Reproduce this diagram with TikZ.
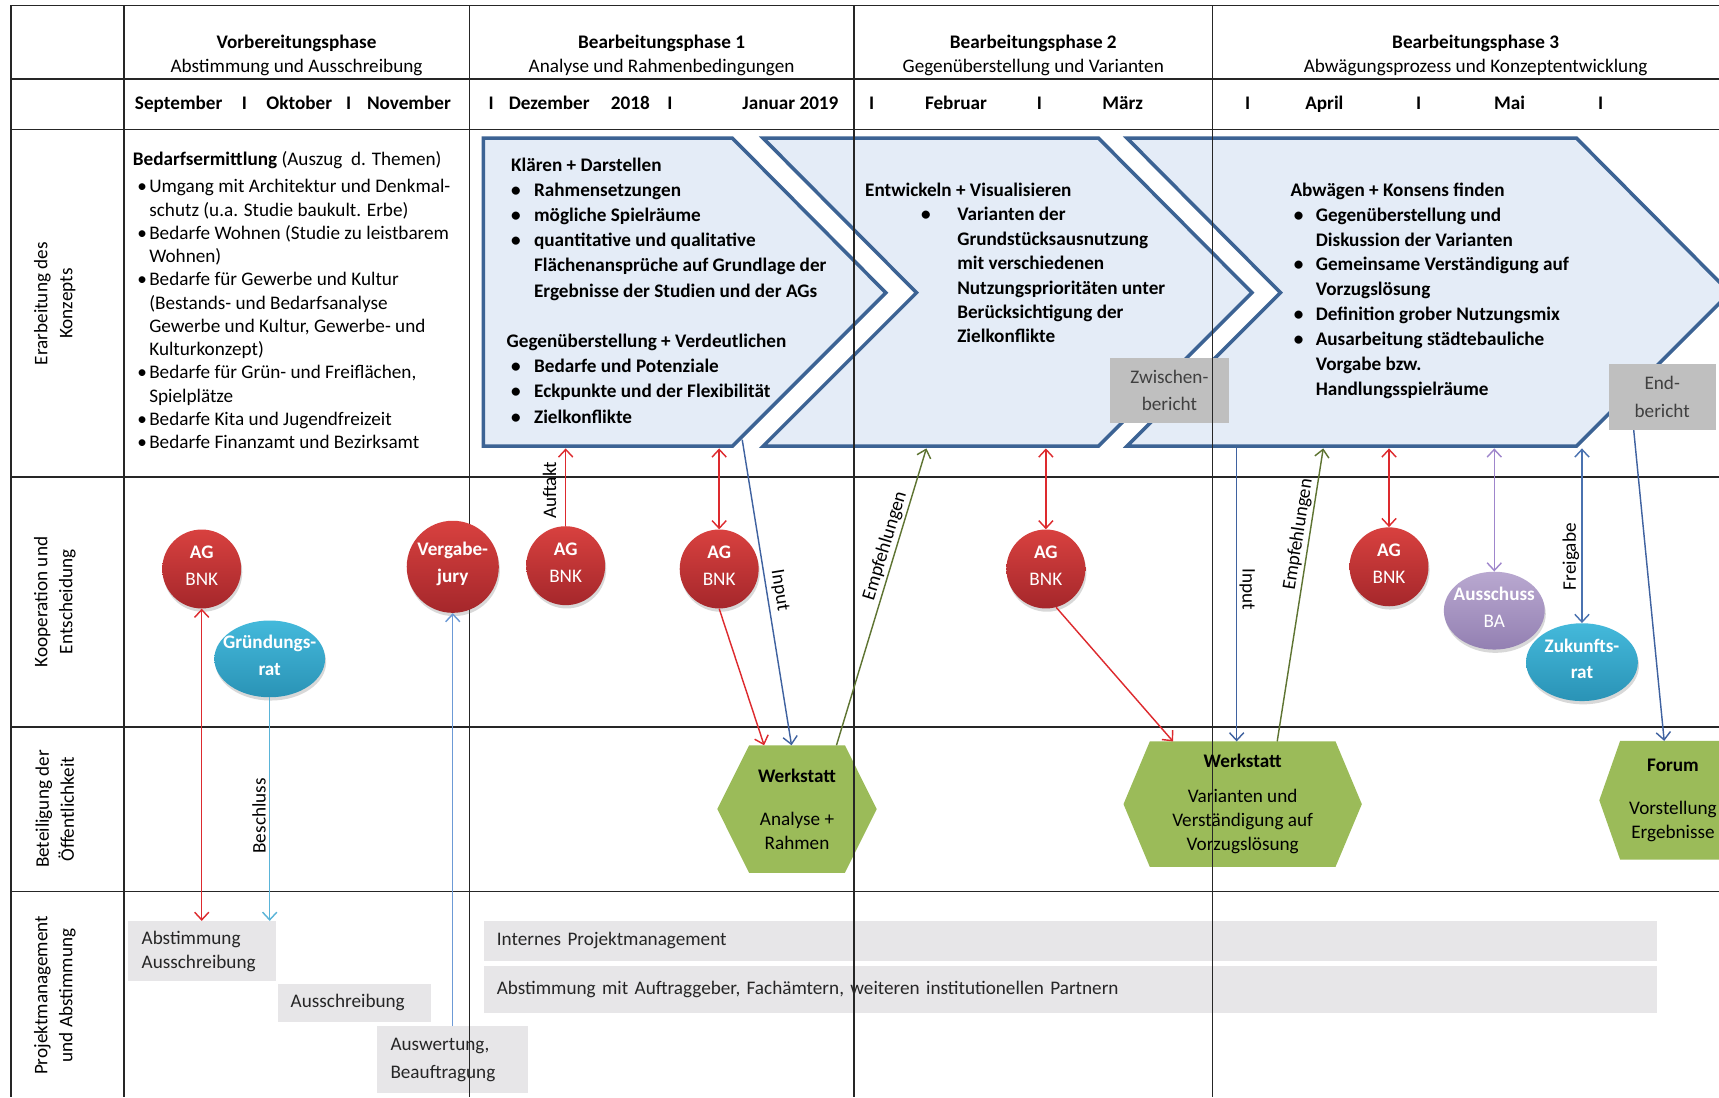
\documentclass[tikz,border=0pt]{standalone}
\usepackage{fontspec}
\setmainfont{Carlito}
\usepackage{tikz}
\usetikzlibrary{arrows.meta,positioning,shapes.geometric,shadows}

\definecolor{chevfill}{HTML}{E4ECF7}
\definecolor{chevline}{HTML}{3C6394}
\definecolor{ballred}{HTML}{D8413F}
\definecolor{ballreddark}{HTML}{A5272B}
\definecolor{ballcyan}{HTML}{44B9DB}
\definecolor{ballcyandark}{HTML}{2A93B6}
\definecolor{balllila}{HTML}{B9A8D0}
\definecolor{balliladark}{HTML}{9380B2}
\definecolor{hexgreen}{HTML}{9BBB59}
\definecolor{boxgrey}{HTML}{E7E6E8}
\definecolor{repgrey}{HTML}{BFBFBF}
\definecolor{arrred}{HTML}{DD2A2E}
\definecolor{arrblue}{HTML}{3F62A0}
\definecolor{arrmid}{HTML}{4A72B0}
\definecolor{arrlight}{HTML}{6C9AD6}
\definecolor{arrcyan}{HTML}{5AB4D8}
\definecolor{arrgreen}{HTML}{5E7432}
\definecolor{arrlila}{HTML}{9F86CC}

\pgfdeclarelayer{background}
\pgfdeclarelayer{gridlayer}
\pgfsetlayers{background,gridlayer,main}

\newcommand{\bul}[1][4pt]{\hspace{#1}\textbullet}

\begin{document}
\begin{tikzpicture}[
    x=1pt, y=-1pt,
    >={Straight Barb[length=7pt,width=13pt]},
    font=\fontsize{17.5}{22}\selectfont,
    gridline/.style={draw=black!85, line width=1.2pt},
    chevron/.style={fill=chevfill, draw=chevline, line width=3.2pt},
    phase/.style={anchor=base, inner sep=0pt},
    month/.style={anchor=base, inner sep=0pt, font=\fontsize{17.5}{22}\selectfont\bfseries},
    rowlabel/.style={rotate=90, align=center, inner sep=0pt, font=\fontsize{17.5}{22.8}\selectfont},
    textblock/.style={anchor=base west, inner sep=0pt},
    ball/.style={inner sep=0pt, draw=none,
        drop shadow={opacity=0.3, shadow xshift=1pt, shadow yshift=-3pt}},
    redball/.style={ball, circle, minimum size=72pt, top color=ballred, bottom color=ballreddark},
    cyanball/.style={ball, ellipse, minimum width=101pt, minimum height=70pt,
        top color=ballcyan, bottom color=ballcyandark},
    lilaball/.style={ball, ellipse, minimum width=92pt, minimum height=71pt,
        top color=balllila, bottom color=balliladark},
    balltext/.style={text=white, align=center, inner sep=0pt, yshift=3pt,
        font=\fontsize{17.5}{24.5}\selectfont},
    balltextbf/.style={balltext, font=\fontsize{17.5}{24.5}\selectfont\bfseries},
    hexnode/.style={inner sep=0pt, align=center},
    hexfill/.style={fill=hexgreen},
    report/.style={fill=repgrey, text=black!75, align=center, inner sep=0pt,
        anchor=north west, font=\fontsize{17.5}{25}\selectfont},
    pmbox/.style={fill=boxgrey, text=black!85, align=left, inner xsep=12pt,
        inner ysep=0pt, anchor=north west},
    conn/.style={line width=1.3pt},
    redline/.style={conn, draw=arrred},
    blueline/.style={conn, draw=arrblue},
    midline/.style={conn, draw=arrmid},
    lightline/.style={conn, draw=arrlight},
    cyanline/.style={conn, draw=arrcyan},
    greenline/.style={conn, draw=arrgreen},
    lilaline/.style={conn, draw=arrlila}
  ]
  \useasboundingbox (0,0) rectangle (1568,1001);

  % Phasen und Zeitleiste
  \node[phase] (ph0) at (270.5,44) {\begin{tabular}[t]{@{}c@{}}\textbf{Vorbereitungsphase}\\Abstimmung und Ausschreibung\end{tabular}};
  \node[phase] (ph1) at (603.5,44) {\begin{tabular}[t]{@{}c@{}}\textbf{Bearbeitungsphase 1}\\Analyse und Rahmenbedingungen\end{tabular}};
  \node[phase] (ph2) at (942.5,44) {\begin{tabular}[t]{@{}c@{}}\textbf{Bearbeitungsphase 2}\\Gegenüberstellung und Varianten\end{tabular}};
  \node[phase] (ph3) at (1346,44) {\begin{tabular}[t]{@{}c@{}}\textbf{Bearbeitungsphase 3}\\Abwägungsprozess und Konzeptentwicklung\end{tabular}};

  \foreach \mx/\mt [count=\mi] in {163/September, 223/I, 273/Oktober, 318/I, 373/November,
      448/I, 501/Dezember, 575/2018, 611/I, 721/Januar 2019,
      795/I, 872/Februar, 948/I, 1024/März,
      1138/I, 1208/April, 1294/I, 1377/Mai, 1460/I}
    \node[month] (mon\mi) at (\mx,100) {\mt};

  % Zeilenbeschriftung
  \node[rowlabel] (row1) at (50,277) {Erarbeitung des\\Konzepts};
  \node[rowlabel] (row2) at (50,549) {Kooperation und\\Entscheidung};
  \node[rowlabel] (row3) at (50,738) {Beteiligung der\\Öffentlichkeit};
  \node[rowlabel] (row4) at (50,908) {Projektmanagement\\und Abstimmung};

  % Erarbeitung des Konzepts
  \node[textblock, font=\fontsize{17.5}{21.2}\selectfont] (bedarf) at (121,151) {%
    \begin{tabular}[t]{@{}p{15pt}@{}l@{}}
      \multicolumn{2}{@{}l@{}}{\textbf{Bedarfsermittlung} (Auszug~ d. Themen)}\\[3.8pt]
      \bul & Umgang mit Architektur und Denkmal-\\
      & schutz (u.a. Studie baukult. Erbe)\\
      \bul & Bedarfe Wohnen (Studie zu leistbarem\\
      & Wohnen)\\
      \bul & Bedarfe für Gewerbe und Kultur\\
      & (Bestands- und Bedarfsanalyse\\
      & Gewerbe und Kultur, Gewerbe- und\\
      & Kulturkonzept)\\
      \bul & Bedarfe für Grün- und Freiflächen,\\
      & Spielplätze\\
      \bul & Bedarfe Kita und Jugendfreizeit\\
      \bul & Bedarfe Finanzamt und Bezirksamt
    \end{tabular}};

  \node[textblock, font=\fontsize{17.5}{23}\selectfont\bfseries] (klaeren) at (462,156) {%
    \begin{tabular}[t]{@{}p{25pt}@{}l@{}}
      \multicolumn{2}{@{}l@{}}{\hspace{4pt}Klären + Darstellen}\\
      \bul & Rahmensetzungen\\
      \bul & mögliche Spielräume\\
      \bul & quantitative und qualitative\\
      & Flächenansprüche auf Grundlage der\\
      & Ergebnisse der Studien und der AGs\\
      \multicolumn{2}{@{}l@{}}{}\\
      \multicolumn{2}{@{}l@{}}{Gegenüberstellung + Verdeutlichen}\\
      \bul & Bedarfe und Potenziale\\
      \bul & Eckpunkte und der Flexibilität\\
      \bul & Zielkonflikte
    \end{tabular}};

  \node[textblock, font=\fontsize{17.5}{22.3}\selectfont\bfseries] (entwickeln) at (789,179) {%
    \begin{tabular}[t]{@{}p{84pt}@{}l@{}}
      \multicolumn{2}{@{}l@{}}{Entwickeln + Visualisieren}\\
      \bul[51pt] & Varianten der\\
      & Grundstücksausnutzung\\
      & mit verschiedenen\\
      & Nutzungsprioritäten unter\\
      & Berücksichtigung der\\
      & Zielkonflikte
    \end{tabular}};

  \node[textblock, font=\fontsize{17.5}{22.7}\selectfont\bfseries] (abwaegen) at (1177,179) {%
    \begin{tabular}[t]{@{}p{23pt}@{}l@{}}
      \multicolumn{2}{@{}l@{}}{Abwägen + Konsens finden}\\
      \bul[3pt] & Gegenüberstellung und\\
      & Diskussion der Varianten\\
      \bul[3pt] & Gemeinsame Verständigung auf\\
      & Vorzugslösung\\
      \bul[3pt] & Definition grober Nutzungsmix\\
      \bul[3pt] & Ausarbeitung städtebauliche\\
      & Vorgabe bzw.\\
      & Handlungsspielräume
    \end{tabular}};

  \coordinate (ch1s) at (441,409);
  \coordinate (ch1e) at (668,407);
  \coordinate (ch2s) at (696,409);
  \coordinate (ch3s) at (1028,409);

  % Kooperation und Entscheidung
  \foreach \bx/\by [count=\bi] in {184/519, 516/516, 656/519, 954/519, 1267/517} {
    \node[redball] (ag\bi) at (\bx,\by) {};
    \node[balltext] (agt\bi) at (ag\bi) {\textbf{AG}\\BNK};
  }
  \node[redball, minimum size=84pt] (vj) at (413,517) {};
  \node[balltextbf] (vjt) at (vj) {Vergabe-\\jury};
  \node[cyanball] (gr) at (246,601) {};
  \node[balltextbf] (grt) at (gr) {Gründungs-\\rat};
  \node[lilaball] (aba) at (1363,557) {};
  \node[balltext] (abat) at (aba) {\textbf{Ausschuss}\\BA};
  \node[cyanball, minimum width=102pt, minimum height=71pt] (zr) at (1443,604) {};
  \node[balltextbf] (zrt) at (zr) {Zukunfts-\\rat};

  % Beteiligung der Oeffentlichkeit
  \node[hexnode, minimum width=87pt, minimum height=116pt] (ws1) at (727,738)
    {\textbf{Werkstatt}\\[17pt]Analyse +\\Rahmen};
  \node[hexnode, minimum width=169pt, minimum height=114pt] (ws2) at (1133.5,733.5)
    {\textbf{Werkstatt}\\[10pt]Varianten und\\Verständigung auf\\Vorzugslösung};
  \node[hexnode, minimum width=96pt, minimum height=108pt] (forum) at (1526,730)
    {\textbf{Forum}\\[17pt]Vorstellung\\Ergebnisse};

  \begin{pgfonlayer}{background}
    \fill[white] (0,0) rectangle (1568,1001);
    \draw[chevron] (441,126) -- (668,126) -- (808,267) -- (668,407) -- (441,407) -- cycle;
    \draw[chevron] (696,126) -- (1002,126) -- (1142,267) -- (1002,407) -- (696,407) -- (836,267) -- cycle;
    \draw[chevron] (1028,126) -- (1438,126) -- (1578,267) -- (1438,407) -- (1028,407) -- (1168,267) -- cycle;
    \node[report, minimum width=109pt, minimum height=60pt] (zb) at (1012,326) {Zwischen-\\bericht};
    \node[report, minimum width=98pt, minimum height=60pt] (eb) at (1467,332) {End-\\bericht};
    \fill[hexfill] (ws1.north west) -- (ws1.north east) -- ([xshift=29pt]ws1.east)
      -- (ws1.south east) -- (ws1.south west) -- ([xshift=-29pt]ws1.west) -- cycle;
    \fill[hexfill] (ws2.north west) -- (ws2.north east) -- ([xshift=24pt]ws2.east)
      -- (ws2.south east) -- (ws2.south west) -- ([xshift=-24pt]ws2.west) -- cycle;
    \fill[hexfill] (forum.north west) -- (forum.north east) -- ([xshift=19pt]forum.east)
      -- (forum.south east) -- (forum.south west) -- ([xshift=-19pt]forum.west) -- cycle;
    % Projektmanagement und Abstimmung
    \node[pmbox, text width=111pt, minimum height=55pt] (pm1) at (117,840) {Abstimmung\\Ausschreibung};
    \node[pmbox, text width=116pt, minimum height=35pt] (pm2) at (253,897) {Ausschreibung};
    \node[pmbox, text width=113pt, minimum height=61pt, font=\fontsize{17.5}{25}\selectfont] (pm3) at (344,936) {Auswertung,\\Beauftragung};
    \node[pmbox, text width=1046pt, minimum height=36pt] (pm4) at (441,840) {Internes Projektmanagement};
    \node[pmbox, text width=1046pt, minimum height=43pt] (pm5) at (441,881) {Abstimmung mit Auftraggeber, Fachämtern, weiteren institutionellen Partnern};
  \end{pgfonlayer}

  % Tabellenraster
  \begin{pgfonlayer}{gridlayer}
    \foreach \gy in {5,72,118,435,663,813}
      \draw[gridline] (10,\gy) -- (1568,\gy);
    \foreach \gx in {10,113,428,779,1106}
      \draw[gridline] (\gx,5) -- (\gx,1001);
  \end{pgfonlayer}

  % Verbindungen
  \draw[redline, <->] (ag1) -- (ag1 |- pm1.north);
  \draw[cyanline, ->] (gr) -- (gr |- pm1.north)
    node[pos=0.53, rotate=90, anchor=south, inner sep=3pt] (lb1) {Beschluss};
  \draw[lightline, ->] (pm3.north -| vj) -- (vj);
  \draw[redline, ->] (ag2) -- (ag2 |- ch1s)
    node[pos=0.46, rotate=90, anchor=south, inner sep=8pt] (lb2) {Auftakt};
  \draw[redline, <->] (ag3) -- (ag3 |- ch1s);
  \draw[redline, ->] (ag3.south) -- ([xshift=-30pt]ws1.north);
  \draw[blueline, ->] ([xshift=9pt,yshift=6pt]ch1e) -- ([xshift=-5pt]ws1.north)
    node[pos=0.5, sloped, above, inner sep=4pt] (lb3) {Input};
  \draw[greenline, ->] ([xshift=36pt]ws1.north) -- ([xshift=149pt]ch2s)
    node[pos=0.66, sloped, above, inner sep=2pt] (lb4) {Empfehlungen};
  \draw[redline, <->] (ag4) -- (ag4 |- ch2s);
  \draw[redline, ->] (ag4.-75) -- ([xshift=-63.5pt]ws2.north);
  \draw[blueline, ->] ([xshift=-5.5pt]ws2.north |- ch3s) -- ([xshift=-5.5pt]ws2.north)
    node[pos=0.48, rotate=-90, anchor=south, inner sep=2pt] (lb5) {Input};
  \draw[greenline, ->] ([xshift=31.5pt]ws2.north) -- ([xshift=179pt]ch3s)
    node[pos=0.70, sloped, above, inner sep=2pt] (lb6) {Empfehlungen};
  \draw[redline, <->] (ag5) -- (ag5 |- ch3s);
  \draw[lilaline, <->] (aba) -- (aba |- ch3s);
  \draw[midline, <->] (zr) -- (zr |- ch3s)
    node[pos=0.38, rotate=90, anchor=south, inner sep=2pt] (lb7) {Freigabe};
  \draw[blueline, ->] ([xshift=-26pt]eb.south) -- ([xshift=-8pt]forum.north);

\end{tikzpicture}
\end{document}
